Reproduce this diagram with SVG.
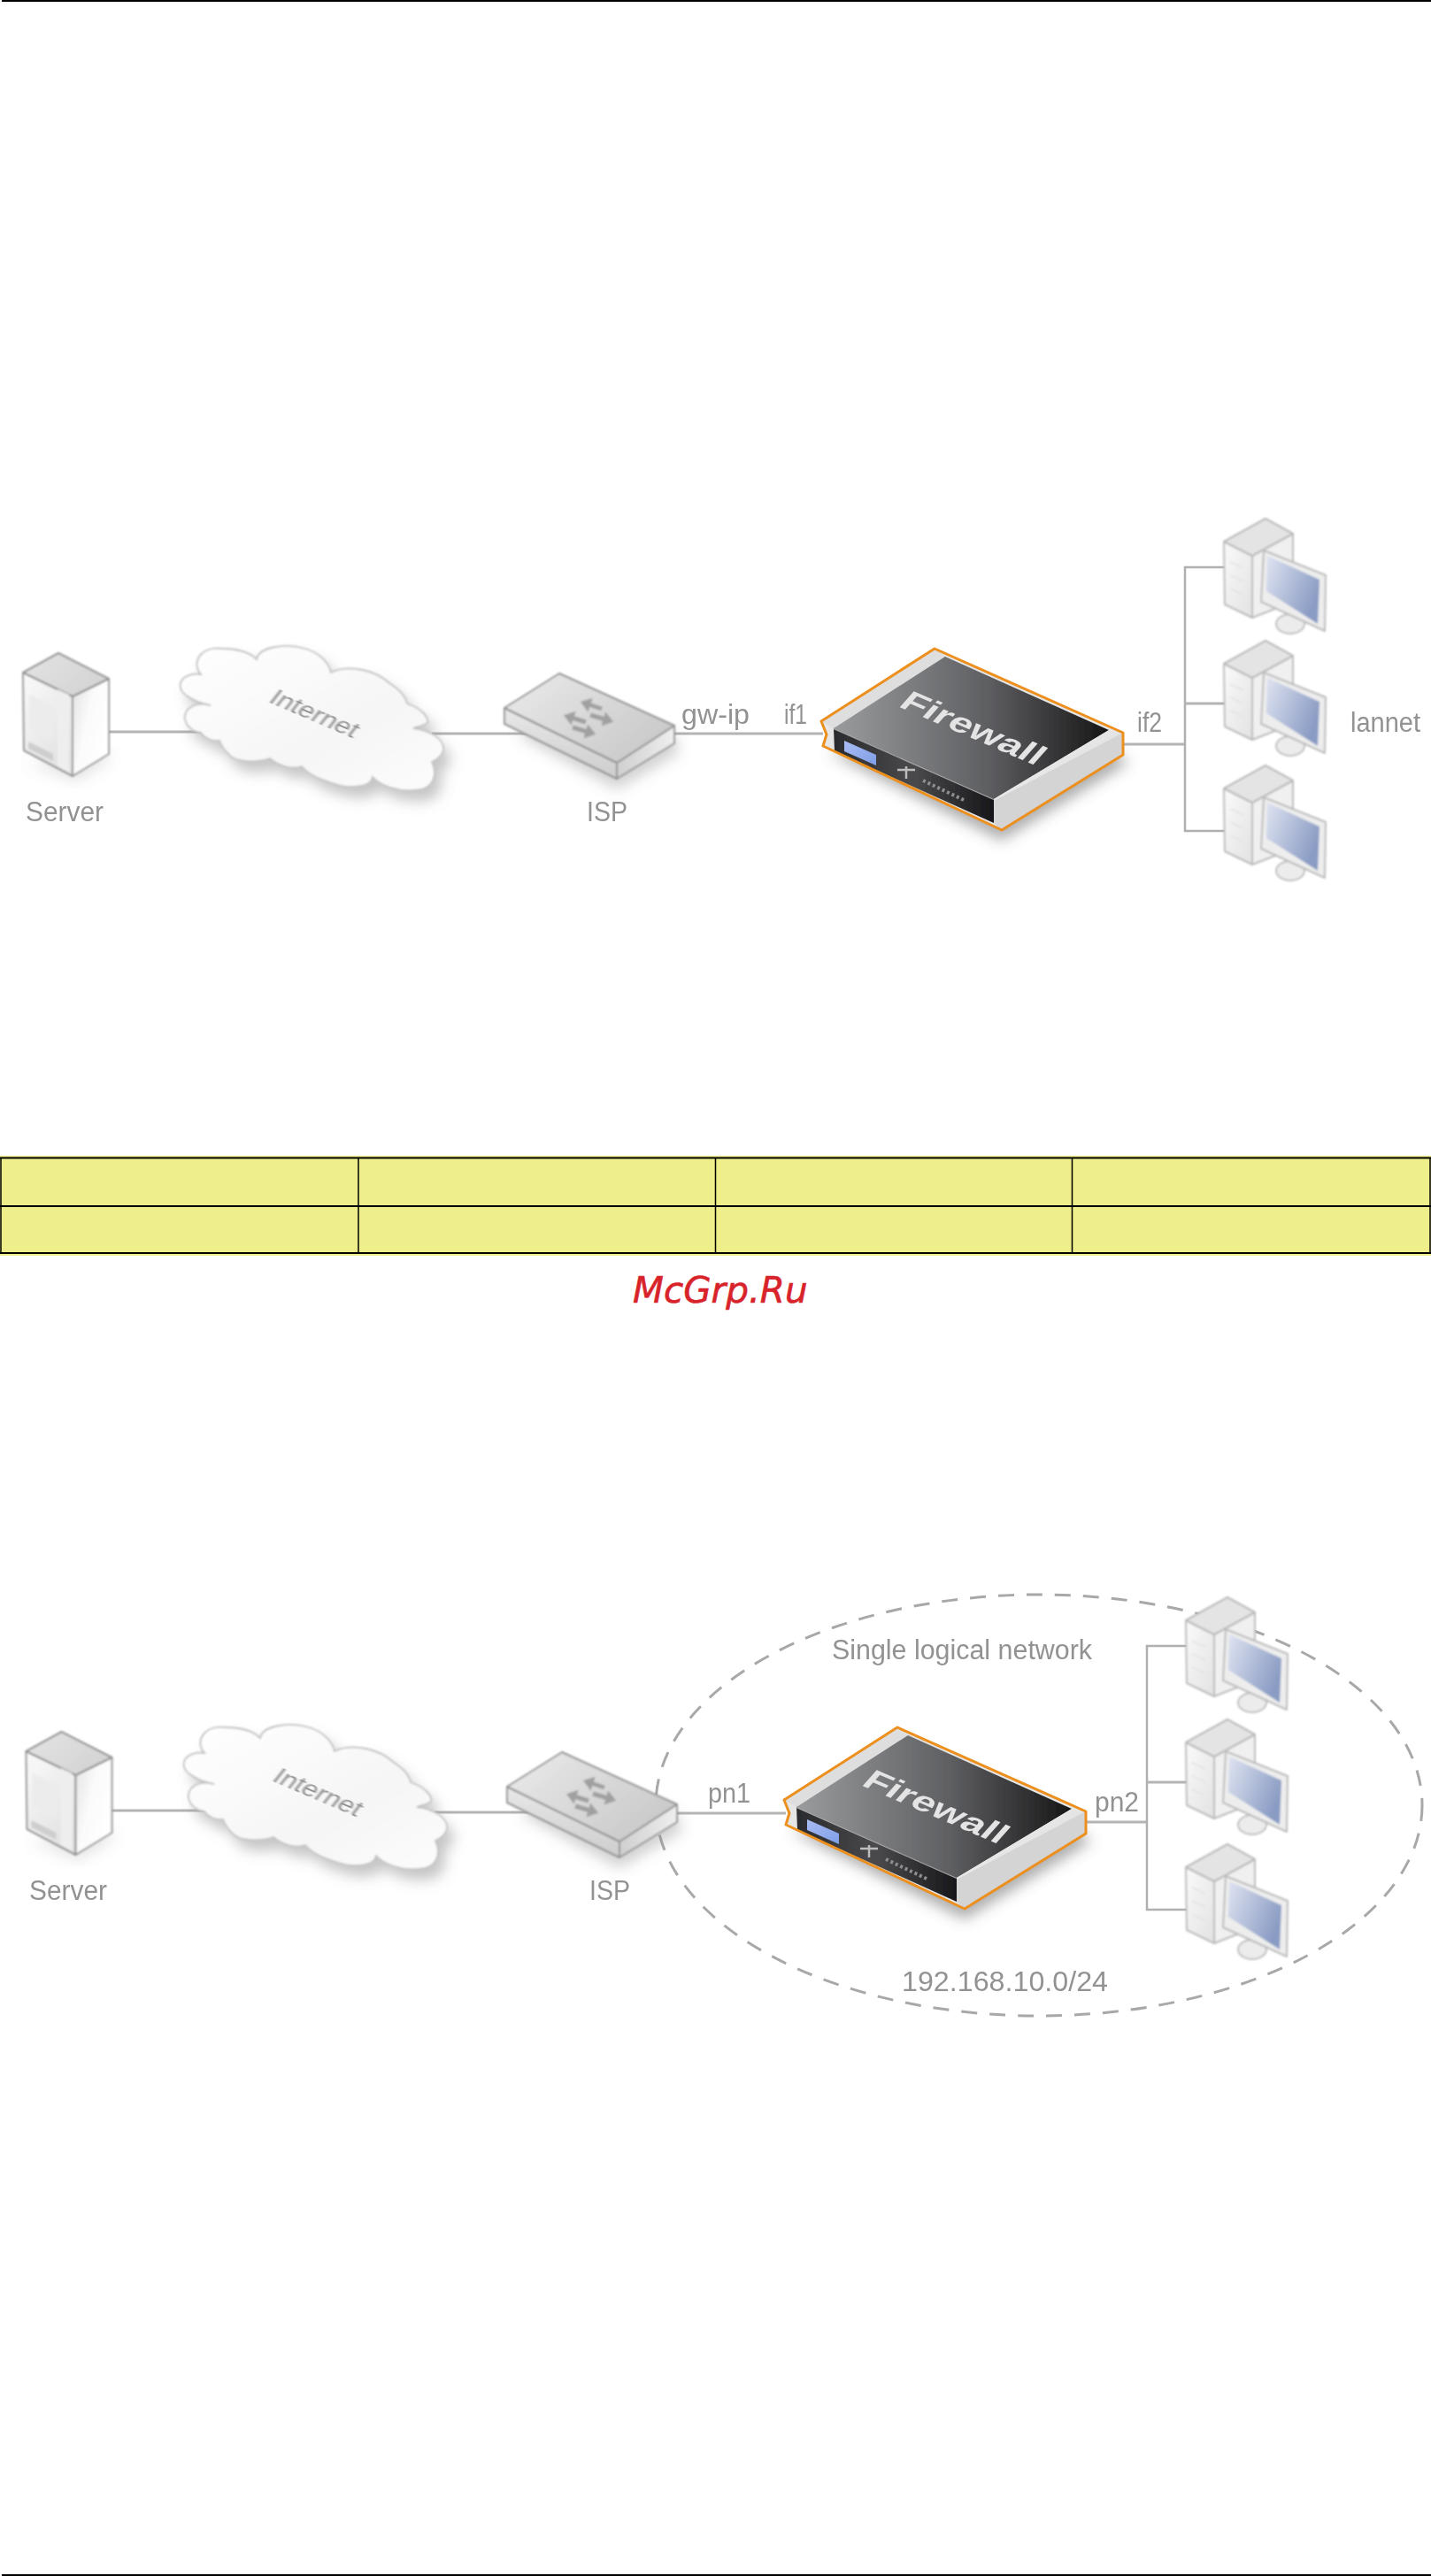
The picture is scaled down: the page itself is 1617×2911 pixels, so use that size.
<svg xmlns="http://www.w3.org/2000/svg" width="1617" height="2911" viewBox="0 0 1617 2911">
<style>
.lbl{font-family:"Liberation Sans",Arial,sans-serif;font-size:31px;fill:#929292;filter:url(#soft)}
.conn{fill:none;stroke:#b4b4b4;stroke-width:3}
.thin{fill:none;stroke:#b0b0b0;stroke-width:2.5}
.edge{stroke:#959595;stroke-width:2;stroke-linejoin:round}
.pcedge{stroke:#bcbcbc;stroke-width:2;stroke-linejoin:round}
.cell{fill:#eeee8a}
.rule{stroke:#000;fill:none}
</style>
<defs>
<filter id="soft" x="-10%" y="-10%" width="120%" height="120%"><feGaussianBlur stdDeviation="0.7"/></filter>
<filter id="art" x="-10%" y="-10%" width="120%" height="120%"><feGaussianBlur stdDeviation="0.9"/></filter>
<filter id="crisp" x="-10%" y="-10%" width="120%" height="120%"><feGaussianBlur stdDeviation="0.5"/></filter>
<filter id="shadow" x="-20%" y="-20%" width="140%" height="140%"><feGaussianBlur stdDeviation="8"/></filter>
<linearGradient id="cloudFill" x1="0" y1="0" x2="1" y2="1"><stop offset="0" stop-color="#ffffff"/><stop offset="0.6" stop-color="#f6f6f6"/><stop offset="1" stop-color="#fcfcfc"/></linearGradient>
<linearGradient id="srvFront" x1="0" y1="0" x2="0.6" y2="1"><stop offset="0" stop-color="#fafafa"/><stop offset="1" stop-color="#e2e2e2"/></linearGradient>
<linearGradient id="srvSide" x1="0" y1="0" x2="1" y2="0.6"><stop offset="0" stop-color="#e2e2e2"/><stop offset="0.5" stop-color="#fbfbfb"/><stop offset="1" stop-color="#ffffff"/></linearGradient>
<linearGradient id="srvTop" x1="0" y1="0" x2="1" y2="0.5"><stop offset="0" stop-color="#e4e4e4"/><stop offset="1" stop-color="#d4d4d4"/></linearGradient>
<linearGradient id="ispTop" x1="0" y1="0" x2="1" y2="0.6"><stop offset="0" stop-color="#ebebeb"/><stop offset="1" stop-color="#cacaca"/></linearGradient>
<linearGradient id="ispSide" x1="0" y1="0" x2="0" y2="1"><stop offset="0" stop-color="#e8e8e8"/><stop offset="1" stop-color="#cdcdcd"/></linearGradient>
<linearGradient id="ispRight" x1="0" y1="0" x2="1" y2="0"><stop offset="0" stop-color="#cfcfcf"/><stop offset="1" stop-color="#efefef"/></linearGradient>
<linearGradient id="fwTop" x1="0" y1="0" x2="1" y2="0"><stop offset="0" stop-color="#9a9b9d"/><stop offset="0.55" stop-color="#5f6063"/><stop offset="1" stop-color="#161616"/></linearGradient>
<linearGradient id="fwFront" x1="0" y1="0" x2="1" y2="0"><stop offset="0" stop-color="#2a2b2e"/><stop offset="0.5" stop-color="#4a4a4c"/><stop offset="1" stop-color="#17171a"/></linearGradient>
<linearGradient id="fwLcd" x1="0" y1="0" x2="1" y2="1"><stop offset="0" stop-color="#a9bcf3"/><stop offset="1" stop-color="#7f9fe6"/></linearGradient>
<linearGradient id="fwRail" x1="0" y1="0" x2="1" y2="1"><stop offset="0" stop-color="#f2f2f2"/><stop offset="1" stop-color="#d6d6d6"/></linearGradient>
<linearGradient id="screen" x1="0" y1="0" x2="1" y2="0.5"><stop offset="0" stop-color="#dfe4f1"/><stop offset="1" stop-color="#8b9cc4"/></linearGradient>
<linearGradient id="towerSide" x1="0" y1="0" x2="1" y2="1"><stop offset="0" stop-color="#fafafa"/><stop offset="1" stop-color="#e2e2e2"/></linearGradient>
<marker id="ah" viewBox="0 0 10 14" refX="2" refY="7" markerWidth="2.400" markerHeight="3.400" orient="auto"><path d="M0,0L10,7L0,14Z" fill="#a0a0a0"/></marker>

<g id="server-art">
<path d="M30,862L86,884L126,858L122,850Z" fill="#9a9a9a" opacity="0.25" filter="url(#shadow)"/>
<path class="edge" d="M26,760L82,787V877L27,848Z" fill="url(#srvFront)"/>
<path class="edge" d="M82,787L123,767V852L82,877Z" fill="url(#srvSide)"/>
<path class="edge" d="M66,738L123,767L82,787L26,760Z" fill="url(#srvTop)"/>
<path d="M65,779L78,785V873L65,866Z" fill="#eeeeee"/>
<path d="M32,838L60,852V860L32,846Z" fill="#cecece"/>
<path d="M33,785L60,797V835L33,822Z" fill="#ececec"/>
</g>

<g id="cloud-art">
<path d="M227,762C215,748 228,730 250,733C262,733 280,735 290,745C292,732 320,726 345,733C362,738 372,750 374,760C395,750 425,758 440,772C452,780 458,786 460,795C475,800 485,810 483,817C478,820 472,821 467,823C485,825 503,835 501,848C499,855 494,858 488,861C495,875 490,892 470,893C450,895 430,888 421,878C420,888 400,892 382,887C365,882 350,877 341,866C330,870 315,866 305,857C290,862 265,862 258,852C252,846 250,842 248,837C238,838 230,833 227,828C212,826 204,812 212,802C218,796 228,794 238,797C225,795 200,785 204,772C206,765 216,760 227,762Z" fill="#8a8a8a" opacity="0.5" transform="translate(8,12)" filter="url(#shadow)"/>
<path d="M227,762C215,748 228,730 250,733C262,733 280,735 290,745C292,732 320,726 345,733C362,738 372,750 374,760C395,750 425,758 440,772C452,780 458,786 460,795C475,800 485,810 483,817C478,820 472,821 467,823C485,825 503,835 501,848C499,855 494,858 488,861C495,875 490,892 470,893C450,895 430,888 421,878C420,888 400,892 382,887C365,882 350,877 341,866C330,870 315,866 305,857C290,862 265,862 258,852C252,846 250,842 248,837C238,838 230,833 227,828C212,826 204,812 212,802C218,796 228,794 238,797C225,795 200,785 204,772C206,765 216,760 227,762Z" fill="url(#cloudFill)" stroke="#c0c0c0" stroke-width="1.800"/>
</g>

<g id="isp-art">
<path d="M585,830L697,892L768,850L760,830L640,800Z" fill="#8a8a8a" opacity="0.4" filter="url(#shadow)"/>
<path class="edge" d="M570,800L697,862V880L570,818Z" fill="url(#ispSide)"/>
<path class="edge" d="M697,862L762,820V840L697,880Z" fill="url(#ispRight)"/>
<path class="edge" d="M632,761L762,820L697,862L570,800Z" fill="url(#ispTop)"/>
<g stroke="#a0a0a0" stroke-width="5" fill="none">
<path d="M680,801L665,796" marker-end="url(#ah)"/>
<path d="M667,808L684,813" marker-end="url(#ah)"/>
<path d="M662,816L646,811" marker-end="url(#ah)"/>
<path d="M647,822L664,827" marker-end="url(#ah)"/>
</g>
</g>

<g id="fw-art">
<path d="M935,850L1132,950L1275,862L1260,850Z" fill="#777" opacity="0.6" filter="url(#shadow)"/>
<path d="M1056,733L1269,828V853L1132,938L930,843L932,830L928,815Z" fill="#e6e6e6"/>
<path d="M1056,733L1068,742L942,823L928,815Z" fill="#dedede"/>
<path d="M942,823L1123,903V930L943,849Z" fill="url(#fwFront)"/>
<path d="M942,823L1123,903" stroke="#a8a8a8" stroke-width="2" fill="none"/>
<path d="M1068,742L1253,825L1123,903L942,823Z" fill="url(#fwTop)"/>
<path d="M1253,825L1269,828L1132,925L1123,903Z" fill="url(#fwRail)"/>
<path d="M1269,828V853L1132,938L1123,930V905Z" fill="#d4d4d4"/>
<path d="M954,837L990,853V865L954,849Z" fill="url(#fwLcd)"/>
<path d="M1014,870H1034M1024,866V880" stroke="#bdbdbd" stroke-width="2.500" fill="none"/>
<path d="M1043,882L1091,905" stroke="#8e8e8e" stroke-width="4" stroke-dasharray="3 3" fill="none"/>
<path d="M1056,733L1269,828V853L1132,938L930,843L934,830L928,815Z" fill="none" stroke="#ec8f1f" stroke-width="3" stroke-linejoin="round"/>
<text x="0" y="0" transform="matrix(1.00 .43 -.55 .62 1014 798)" font-family="Liberation Sans, Arial, sans-serif" font-size="42" font-weight="700" fill="#e4e4e4">Firewall</text>
</g>

<g id="pc-art">
<path class="pcedge" d="M1383,612L1415,628V698L1384,683Z" fill="url(#towerSide)"/>
<path class="pcedge" d="M1415,628L1461,603V680L1415,698Z" fill="#f0f0f0"/>
<path class="pcedge" d="M1430,586L1461,603L1415,628L1383,612Z" fill="#e4e4e4"/>
<path d="M1390,635L1405,642M1390,650L1405,657M1390,665L1405,672" stroke="#e2e2e2" stroke-width="1.500" fill="none"/>
<ellipse cx="1458" cy="705" rx="16" ry="11" fill="#ececec" stroke="#c0c0c0" stroke-width="2"/>
<path class="pcedge" d="M1428,622L1498,650L1497,713L1425,680Z" fill="#ededed"/>
<path d="M1432,628L1491,655L1489,705L1431,668Z" fill="url(#screen)"/>
</g>
</defs>

<rect id="page-top" x="2" y="0" width="1615" height="2" fill="#000"/>
<rect id="page-bottom" x="2" y="2909" width="1615" height="2" fill="#000"/>

<g id="connectors-1" filter="url(#soft)">
<path class="conn" d="M122,827H228"/>
<path class="conn" d="M488,829H600"/>
<path class="conn" d="M762,829H930"/>
<path class="conn" d="M1269,841H1339"/>
<path class="thin" d="M1384,641H1339V939H1384"/>
<path class="conn" d="M1339,795H1384"/>
</g>
<g id="server-1" filter="url(#art)"><use href="#server-art"/></g>
<g id="cloud-1" filter="url(#art)"><use href="#cloud-art"/></g>
<g id="isp-1" filter="url(#art)"><use href="#isp-art"/></g>
<g id="firewall-1" filter="url(#crisp)"><use href="#fw-art"/></g>
<g id="pc-1a" filter="url(#art)"><use href="#pc-art"/></g>
<g id="pc-1b" filter="url(#art)"><use href="#pc-art" y="138"/></g>
<g id="pc-1c" filter="url(#art)"><use href="#pc-art" y="279"/></g>
<g id="labels-1">
<text class="lbl" x="29" y="928" textLength="88" lengthAdjust="spacingAndGlyphs">Server</text>
<text class="lbl" x="0" y="0" transform="matrix(1.05 .45 -.62 .78 302 793)" style="font-size:27px">Internet</text>
<text class="lbl" x="663" y="928" textLength="46" lengthAdjust="spacingAndGlyphs">ISP</text>
<text class="lbl" x="770" y="818" textLength="77" lengthAdjust="spacingAndGlyphs">gw-ip</text>
<text class="lbl" x="886" y="818" textLength="26" lengthAdjust="spacingAndGlyphs">if1</text>
<text class="lbl" x="1285" y="827" textLength="28" lengthAdjust="spacingAndGlyphs">if2</text>
<text class="lbl" x="1526" y="827" textLength="79" lengthAdjust="spacingAndGlyphs">lannet</text>
</g>

<g id="table">
<rect class="cell" x="0" y="1306" width="1617" height="113"/>
<path class="rule" stroke-width="2.200" d="M0,1308.500H1617M0,1363H1617M0,1416H1617"/>
<path class="rule" stroke-width="1.500" d="M1,1308V1416M405,1308V1416M808.500,1308V1416M1211.500,1308V1416M1616,1308V1416"/>
</g>
<text id="watermark" x="715" y="1472" font-family="DejaVu Sans, sans-serif" font-style="oblique" font-size="40.500" fill="#d8232a" stroke="#d8232a" stroke-width="0.600">McGrp.Ru</text>

<ellipse id="logical-network" cx="1174" cy="2040" rx="433" ry="238" fill="none" stroke="#a8a8a8" stroke-width="3" stroke-dasharray="18 14" filter="url(#soft)"/>
<g id="connectors-2" filter="url(#soft)">
<path class="conn" d="M125,2046H232"/>
<path class="conn" d="M491,2048H603"/>
<path class="conn" d="M765,2049H888"/>
<path class="conn" d="M1226,2059H1296"/>
<path class="thin" d="M1341,1860H1296V2158H1341"/>
<path class="conn" d="M1296,2014H1341"/>
</g>
<g id="server-2" filter="url(#art)"><use href="#server-art" x="3.500" y="1219"/></g>
<g id="cloud-2" filter="url(#art)"><use href="#cloud-art" x="4" y="1219"/></g>
<g id="isp-2" filter="url(#art)"><use href="#isp-art" x="3" y="1219"/></g>
<g id="firewall-2" filter="url(#crisp)"><use href="#fw-art" x="-42" y="1219"/></g>
<g id="pc-2a" filter="url(#art)"><use href="#pc-art" x="-43" y="1219"/></g>
<g id="pc-2b" filter="url(#art)"><use href="#pc-art" x="-43" y="1357"/></g>
<g id="pc-2c" filter="url(#art)"><use href="#pc-art" x="-43" y="1498"/></g>
<g id="labels-2">
<text class="lbl" x="33" y="2147" textLength="88" lengthAdjust="spacingAndGlyphs">Server</text>
<text class="lbl" x="0" y="0" transform="matrix(1.05 .45 -.62 .78 306 2012)" style="font-size:27px">Internet</text>
<text class="lbl" x="666" y="2147" textLength="46" lengthAdjust="spacingAndGlyphs">ISP</text>
<text class="lbl" x="800" y="2037" textLength="48" lengthAdjust="spacingAndGlyphs">pn1</text>
<text class="lbl" x="1237" y="2047" textLength="50" lengthAdjust="spacingAndGlyphs">pn2</text>
<text class="lbl" x="940" y="1875" textLength="294" lengthAdjust="spacingAndGlyphs">Single logical network</text>
<text class="lbl" x="1019" y="2250" textLength="233" lengthAdjust="spacingAndGlyphs">192.168.10.0/24</text>
</g>
</svg>
